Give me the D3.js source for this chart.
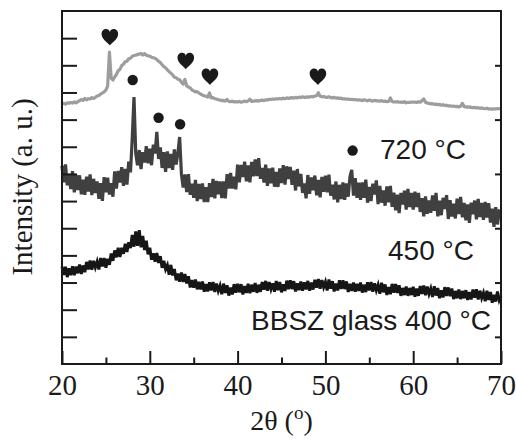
<!DOCTYPE html>
<html>
<head>
    <meta charset="utf-8">
    <title>XRD BBSZ glass</title>
    <script src="https://cdnjs.cloudflare.com/ajax/libs/d3/7.8.5/d3.min.js"></script>
    <style>
        body{ margin: 0; background: #fff; }
        .tick line{ stroke: #1a1a1a; stroke-width: 2; }
        .tick text{ font-family: "Liberation Serif", serif; font-size: 29px; fill: #1a1a1a; }
    </style>
</head>
<body>
<script>
    // scan angles, 2 theta (deg)
    const angles = [
        20.0,20.2,20.4,20.6,20.8,21.0,21.2,21.4,21.6,21.8,
        22.0,22.2,22.4,22.6,22.8,23.0,23.2,23.4,23.6,23.8,
        24.0,24.2,24.4,24.6,24.8,25.0,25.2,25.4,25.6,25.8,
        26.0,26.2,26.4,26.6,26.8,27.0,27.2,27.4,27.6,27.8,
        28.0,28.2,28.4,28.6,28.8,29.0,29.2,29.4,29.6,29.8,
        30.0,30.2,30.4,30.6,30.8,31.0,31.2,31.4,31.6,31.8,
        32.0,32.2,32.4,32.6,32.8,33.0,33.2,33.4,33.6,33.8,
        34.0,34.2,34.4,34.6,34.8,35.0,35.2,35.4,35.6,35.8,
        36.0,36.2,36.4,36.6,36.8,37.0,37.2,37.4,37.6,37.8,
        38.0,38.2,38.4,38.6,38.8,39.0,39.2,39.4,39.6,39.8,
        40.0,40.2,40.4,40.6,40.8,41.0,41.2,41.4,41.6,41.8,
        42.0,42.2,42.4,42.6,42.8,43.0,43.2,43.4,43.6,43.8,
        44.0,44.2,44.4,44.6,44.8,45.0,45.2,45.4,45.6,45.8,
        46.0,46.2,46.4,46.6,46.8,47.0,47.2,47.4,47.6,47.8,
        48.0,48.2,48.4,48.6,48.8,49.0,49.2,49.4,49.6,49.8,
        50.0,50.2,50.4,50.6,50.8,51.0,51.2,51.4,51.6,51.8,
        52.0,52.2,52.4,52.6,52.8,53.0,53.2,53.4,53.6,53.8,
        54.0,54.2,54.4,54.6,54.8,55.0,55.2,55.4,55.6,55.8,
        56.0,56.2,56.4,56.6,56.8,57.0,57.2,57.4,57.6,57.8,
        58.0,58.2,58.4,58.6,58.8,59.0,59.2,59.4,59.6,59.8,
        60.0,60.2,60.4,60.6,60.8,61.0,61.2,61.4,61.6,61.8,
        62.0,62.2,62.4,62.6,62.8,63.0,63.2,63.4,63.6,63.8,
        64.0,64.2,64.4,64.6,64.8,65.0,65.2,65.4,65.6,65.8,
        66.0,66.2,66.4,66.6,66.8,67.0,67.2,67.4,67.6,67.8,
        68.0,68.2,68.4,68.6,68.8,69.0,69.2,69.4,69.6,69.8,
        70.0];

    // top trace (light grey)
    const topTrace = [
        9.58,9.60,9.57,9.62,9.60,9.63,9.61,9.65,9.62,9.66,
        9.70,9.74,9.71,9.78,9.73,9.77,9.76,9.81,9.78,9.82,
        9.87,9.89,9.94,9.98,10.02,10.09,10.24,11.49,10.53,10.46,
        10.57,10.66,10.80,10.85,10.99,11.04,11.13,11.15,11.24,11.26,
        11.33,11.36,11.37,11.40,11.41,11.44,11.38,11.43,11.37,11.35,
        11.34,11.30,11.28,11.26,11.21,11.15,11.10,11.02,10.95,10.91,
        10.83,10.77,10.71,10.65,10.56,10.54,10.49,10.47,10.38,10.31,
        10.48,10.24,10.20,10.17,10.09,10.06,10.02,10.03,9.98,9.94,
        9.90,9.88,9.86,9.83,9.98,9.80,9.81,9.77,9.76,9.73,
        9.72,9.70,9.71,9.68,9.74,9.67,9.66,9.68,9.65,9.66,
        9.65,9.67,9.64,9.66,9.68,9.66,9.69,9.75,9.67,9.68,
        9.69,9.70,9.68,9.71,9.72,9.70,9.73,9.72,9.75,9.74,
        9.76,9.75,9.77,9.76,9.78,9.76,9.79,9.77,9.80,9.78,
        9.80,9.81,9.79,9.82,9.80,9.83,9.81,9.84,9.82,9.83,
        9.84,9.83,9.85,9.84,9.87,9.88,9.99,9.86,9.84,9.85,
        9.83,9.82,9.84,9.81,9.80,9.82,9.79,9.80,9.78,9.79,
        9.76,9.77,9.75,9.76,9.74,9.75,9.73,9.74,9.72,9.73,
        9.72,9.70,9.73,9.71,9.69,9.72,9.70,9.68,9.71,9.69,
        9.69,9.68,9.70,9.67,9.68,9.66,9.67,9.80,9.66,9.65,
        9.65,9.66,9.64,9.65,9.63,9.66,9.62,9.64,9.63,9.65,
        9.64,9.65,9.63,9.66,9.64,9.70,9.76,9.64,9.61,9.60,
        9.58,9.59,9.56,9.57,9.55,9.56,9.53,9.55,9.52,9.53,
        9.50,9.51,9.49,9.50,9.48,9.49,9.47,9.49,9.60,9.48,
        9.47,9.46,9.47,9.45,9.44,9.45,9.43,9.44,9.42,9.43,
        9.41,9.40,9.42,9.39,9.40,9.38,9.40,9.39,9.41,9.40,
        9.40];

    // middle trace (dark grey, noisy)
    const midTrace = [
        7.30,6.69,7.35,6.58,6.98,6.44,7.10,6.32,6.96,6.41,
        6.95,6.25,6.79,6.23,6.90,6.35,6.98,6.22,6.82,6.30,
        6.72,6.08,6.66,6.01,6.88,6.32,6.86,6.24,6.66,6.16,
        7.09,6.46,7.11,6.68,7.25,6.56,7.18,6.61,7.45,7.06,
        8.30,9.83,7.75,7.32,7.88,7.18,7.80,7.42,8.02,7.39,
        7.93,7.32,8.08,7.75,8.55,7.55,7.98,7.22,7.80,7.08,
        7.83,7.22,7.74,7.15,7.90,7.35,7.77,8.36,7.00,6.50,
        6.98,6.33,6.99,6.23,6.64,6.12,6.78,6.00,6.63,6.07,
        6.65,5.96,6.51,5.96,6.66,6.15,6.82,6.10,6.74,6.25,
        6.72,6.11,6.72,6.10,6.99,6.46,7.04,6.46,6.90,6.43,
        7.34,6.69,7.33,6.89,7.45,6.73,7.31,6.69,7.44,6.91,
        7.53,6.92,7.58,6.82,7.22,6.68,7.34,6.56,7.20,6.65,
        7.23,6.53,7.07,6.52,7.20,6.66,7.32,6.61,7.28,6.81,
        7.26,6.60,7.12,6.39,7.18,6.54,7.00,6.30,6.65,6.10,
        6.96,6.27,6.87,6.40,6.94,6.21,6.78,6.14,6.89,6.34,
        6.94,6.32,6.97,6.20,6.60,6.06,6.72,5.95,6.60,6.07,
        6.69,6.05,6.65,6.16,6.90,7.15,6.20,6.84,6.12,6.68,
        6.05,6.69,6.12,6.79,5.94,6.52,6.00,6.64,6.24,6.76,
        5.89,6.56,5.94,6.39,5.83,6.54,5.95,6.56,5.79,6.31,
        5.66,6.24,5.56,6.30,5.87,6.38,5.69,6.45,5.78,6.30,
        5.69,6.35,5.78,6.30,5.60,6.11,5.44,6.17,5.53,6.02,
        5.57,6.21,5.64,6.30,5.44,6.01,5.48,6.12,5.71,6.22,
        5.34,6.03,5.43,5.90,5.36,6.09,5.52,6.15,5.40,5.93,
        5.29,5.88,5.20,5.94,5.51,6.02,5.33,6.08,5.41,5.93,
        5.31,5.97,5.39,5.92,5.21,5.72,5.05,5.78,5.14,5.63,
        5.60];

    // bottom trace (black)
    const lowTrace = [
        3.59,3.28,3.58,3.20,3.52,3.27,3.60,3.27,3.59,3.34,
        3.66,3.32,3.63,3.38,3.76,3.48,3.81,3.47,3.80,3.56,
        3.77,3.48,3.90,3.59,3.90,3.55,3.87,3.65,4.07,3.80,
        4.18,3.93,4.28,3.94,4.28,4.06,4.43,4.13,4.48,4.27,
        4.75,4.32,4.88,4.35,4.93,4.30,4.72,4.20,4.54,4.04,
        4.28,3.84,4.08,3.77,4.09,3.72,3.97,3.54,3.80,3.49,
        3.64,3.29,3.65,3.26,3.50,3.08,3.33,3.03,3.37,3.02,
        3.31,2.97,3.23,2.82,3.09,2.81,3.11,2.75,3.03,2.75,
        3.04,2.66,2.94,2.67,3.01,2.71,3.02,2.65,2.96,2.69,
        2.88,2.57,2.96,2.62,2.90,2.52,2.81,2.56,2.94,2.63,
        2.95,2.64,2.94,2.56,2.87,2.62,2.95,2.61,2.92,2.66,
        2.98,2.62,2.92,2.66,3.02,2.74,3.06,2.70,3.02,2.76,
        2.97,2.66,3.06,2.72,3.02,2.64,2.93,2.69,3.07,2.75,
        3.08,2.76,3.05,2.67,2.97,2.72,3.04,2.70,3.01,2.75,
        3.06,2.70,3.00,2.74,3.10,2.81,3.13,2.77,3.09,2.83,
        3.02,2.71,3.11,2.77,3.05,2.67,2.96,2.71,3.08,2.76,
        3.08,2.76,3.04,2.65,2.95,2.69,3.00,2.66,2.95,2.69,
        3.00,2.63,2.92,2.65,3.01,2.71,3.02,2.66,2.97,2.71,
        2.91,2.59,2.99,2.64,2.93,2.54,2.83,2.57,2.95,2.63,
        2.94,2.62,2.90,2.51,2.80,2.54,2.85,2.51,2.80,2.54,
        2.84,2.48,2.78,2.51,2.87,2.58,2.89,2.53,2.85,2.58,
        2.78,2.47,2.86,2.52,2.80,2.42,2.71,2.45,2.83,2.51,
        2.82,2.50,2.78,2.39,2.69,2.42,2.74,2.39,2.69,2.42,
        2.72,2.36,2.65,2.38,2.74,2.44,2.75,2.38,2.70,2.43,
        2.62,2.31,2.70,2.36,2.65,2.26,2.55,2.30,2.67,2.35,
        2.50];

    // phase markers
    const heartAngles = [25.45, 34.1, 36.85, 49.15];
    const heartLevels = [12.04, 11.16, 10.58, 10.58];
    const dotAngles = [28.05, 31.0, 33.45, 53.1];
    const dotLevels = [10.46, 9.07, 8.83, 7.86];

    const xMajor = [20, 30, 40, 50, 60, 70];
    const xMinor = [25, 35, 45, 55, 65];
    const yLeftTicks = [1, 2, 3, 4, 5, 6, 7, 8, 9, 10, 11, 12];
    const yRightTicks = [1, 3, 5, 7, 9, 11];
    const curveLabels = ['720 °C', '450 °C', 'BBSZ glass 400 °C'];

    const W = 516, H = 440;
    const mLeft = 62, mRight = 501, mTop = 11, mBottom = 364;

    const svg = d3.select('body').append('svg')
        .attr('width', W)
        .attr('height', H);

    const x = d3.scaleLinear().domain([20, 70]).range([mLeft, mRight]);
    const y = d3.scaleLinear().domain([0, 13]).range([mBottom, mTop]);

    //traces
    const line = d3.line()
        .x((d, i) => x(angles[i]))
        .y(d => y(d));

    svg.append('path').datum(topTrace)
        .attr('d', line)
        .attr('fill', 'none')
        .attr('stroke', '#9d9d9d')
        .attr('stroke-width', 3.2)
        .attr('stroke-linejoin', 'round');

    svg.append('path').datum(midTrace)
        .attr('d', line)
        .attr('fill', 'none')
        .attr('stroke', '#404040')
        .attr('stroke-width', 3.2);

    svg.append('path').datum(lowTrace)
        .attr('d', line)
        .attr('fill', 'none')
        .attr('stroke', '#161616')
        .attr('stroke-width', 3.0);

    //axes, ticks pointing inward
    svg.append('g')
        .attr('transform', `translate(0,${mBottom})`)
        .call(d3.axisBottom(x).tickValues(xMajor).tickSize(-13).tickPadding(10).tickFormat(d3.format('d')))
        .call(g => g.select('.domain').remove());
    svg.append('g')
        .attr('transform', `translate(0,${mBottom})`)
        .call(d3.axisBottom(x).tickValues(xMinor).tickSize(-6.5).tickFormat(''))
        .call(g => g.select('.domain').remove());
    svg.append('g')
        .attr('transform', `translate(${mLeft},0)`)
        .call(d3.axisLeft(y).tickValues(yLeftTicks).tickSize(-15).tickFormat(''))
        .call(g => g.select('.domain').remove());
    svg.append('g')
        .attr('transform', `translate(${mRight},0)`)
        .call(d3.axisRight(y).tickValues(yRightTicks).tickSize(-6).tickFormat(''))
        .call(g => g.select('.domain').remove());

    svg.append('rect')
        .attr('x', mLeft).attr('y', mTop)
        .attr('width', mRight - mLeft).attr('height', mBottom - mTop)
        .attr('fill', 'none')
        .attr('stroke', '#1a1a1a')
        .attr('stroke-width', 2);

    //markers
    const heartPath = 'M0,1 C-0.3,0.65 -1,0.2 -1,-0.38 C-1,-0.78 -0.72,-0.98 -0.47,-0.98 ' +
        'C-0.22,-0.98 -0.05,-0.82 0,-0.62 C0.05,-0.82 0.22,-0.98 0.47,-0.98 ' +
        'C0.72,-0.98 1,-0.78 1,-0.38 C1,0.2 0.3,0.65 0,1 Z';
    svg.selectAll('path.heart').data(heartAngles).enter()
        .append('path')
        .attr('class', 'heart')
        .attr('d', heartPath)
        .attr('transform', (d, i) => `translate(${x(d)},${y(heartLevels[i])}) scale(8.3)`)
        .attr('fill', '#1a1a1a');

    svg.selectAll('circle.dot').data(dotAngles).enter()
        .append('circle')
        .attr('class', 'dot')
        .attr('cx', d => x(d))
        .attr('cy', (d, i) => y(dotLevels[i]))
        .attr('r', 5.2)
        .attr('fill', '#1a1a1a');

    //curve labels
    const labelFont = '"Liberation Sans", Arial, sans-serif';
    const labelPos = [[380, 159, 'start'], [388, 260, 'start'], [491, 330, 'end']];
    svg.selectAll('text.lbl').data(curveLabels).enter()
        .append('text')
        .attr('class', 'lbl')
        .attr('x', (d, i) => labelPos[i][0])
        .attr('y', (d, i) => labelPos[i][1])
        .attr('text-anchor', (d, i) => labelPos[i][2])
        .attr('font-family', labelFont)
        .attr('font-size', 28)
        .attr('fill', '#1a1a1a')
        .text(d => d);

    //axis titles
    const xt = svg.append('text')
        .attr('x', (mLeft + mRight) / 2)
        .attr('y', 430)
        .attr('text-anchor', 'middle')
        .attr('font-family', '"Liberation Serif", serif')
        .attr('font-size', 28)
        .attr('fill', '#1a1a1a');
    xt.append('tspan').text('2θ (');
    xt.append('tspan').attr('dy', -11).attr('font-size', 19).text('o');
    xt.append('tspan').attr('dy', 11).text(')');

    svg.append('text')
        .attr('transform', 'translate(32,187) rotate(-90)')
        .attr('text-anchor', 'middle')
        .attr('font-family', '"Liberation Serif", serif')
        .attr('font-size', 29)
        .attr('fill', '#1a1a1a')
        .text('Intensity (a. u.)');
</script>
</body>
</html>
